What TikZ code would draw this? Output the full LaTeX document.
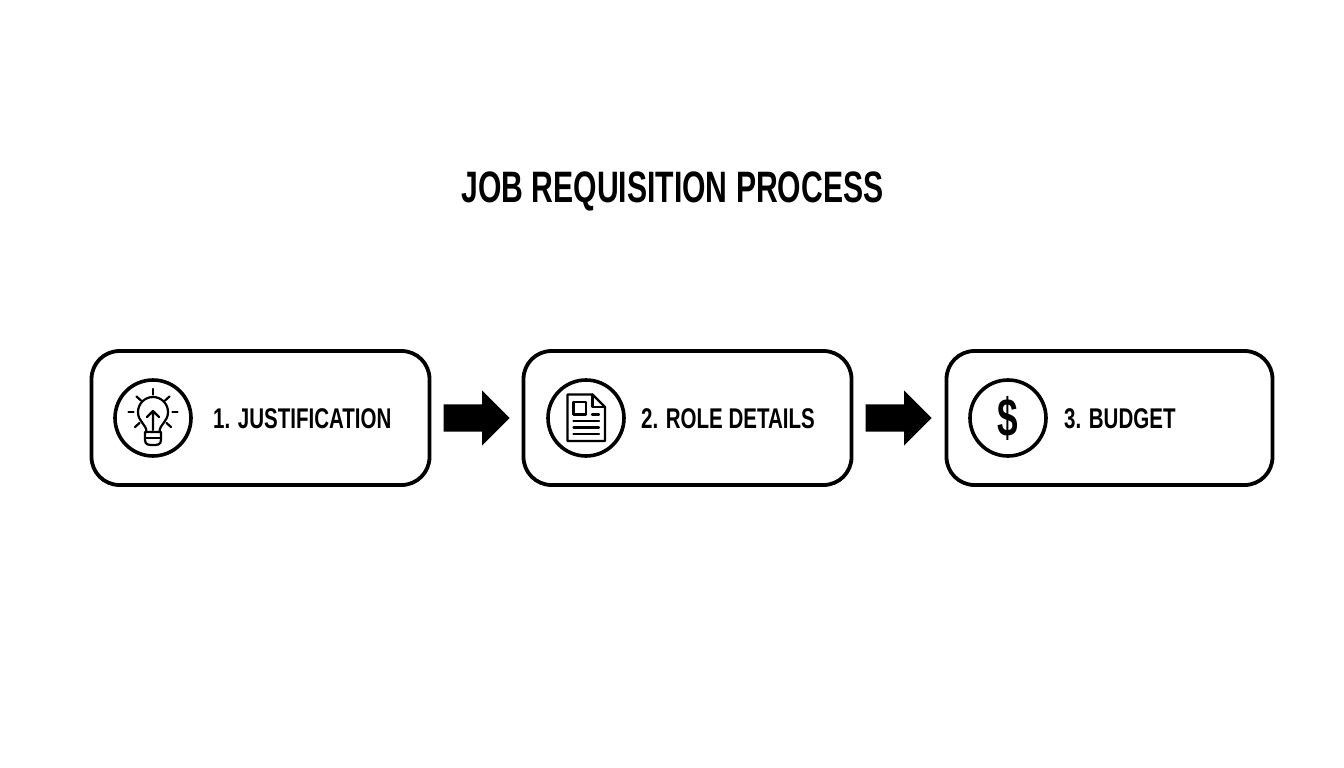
\documentclass[tikz,border=0pt]{standalone}
\usepackage{fontspec}
\usetikzlibrary{shapes.arrows}
\newfontfamily\titlefont[FakeStretch=0.685,UprightFont=*-Bold,BoldFont=*-Bold]{Liberation Sans}
\newfontfamily\labelfont[FakeStretch=0.72,UprightFont=*-Bold,BoldFont=*-Bold]{Liberation Sans}
\tikzset{
  x=1pt,y=-1pt,
  stepbox/.style={draw=black,line width=3.8pt,rounded corners=28pt,fill=white,minimum height=134pt,inner sep=0pt},
  badge/.style={circle,draw=black,line width=3.6pt,fill=white,minimum size=76pt,inner sep=0pt},
  blockarrow/.style={single arrow,fill=black,draw=none,anchor=tip,minimum height=66pt,inner xsep=0pt,inner ysep=13.5pt,single arrow head extend=14pt,single arrow tip angle=90},
  steplabel/.style={anchor=base west,inner sep=0pt,font=\labelfont\fontsize{28.5}{30}\selectfont},
  icon/.style={line width=2.2pt,line cap=round,line join=round},
}
\begin{document}
\begin{tikzpicture}
\useasboundingbox (0,0) rectangle (1344,768);
\fill[white] (0,0) rectangle (1344,768);
\node[anchor=base,inner sep=0pt,font=\titlefont\fontsize{44}{46}\selectfont] (title) at (672.5,202) {JOB REQUISITION PROCESS};
\node[stepbox,minimum width=338pt] (box1) at (260.5,418) {};
\node[stepbox,minimum width=328pt] (box2) at (687.5,418) {};
\node[stepbox,minimum width=326pt] (box3) at (1109.5,418) {};
\node[blockarrow] (arrow1) at (510,418) {};
\node[blockarrow] (arrow2) at (932,418) {};
\node[badge] (badge1) at (153,418) {};
\node[badge] (badge2) at (586,418) {};
\node[badge] (badge3) at (1008,418) {};
\node[steplabel] (label1) at (213,428) {1. JUSTIFICATION};
\node[steplabel] (label2) at (641,428) {2. ROLE DETAILS};
\node[steplabel] (label3) at (1064,428) {3. BUDGET};
% lightbulb
\begin{scope}[icon,shift={(badge1.center)}]
  \draw (-6.5,14) .. controls (-6.5,6) and (-15,4) .. (-15,-6) arc[start angle=180,end angle=360,radius=15] .. controls (15,4) and (6.5,6) .. (6.5,14);
  \draw (-8,14) -- (8,14) -- (8,22) .. controls (8,27) and (4,27) .. (0,27) .. controls (-4,27) and (-8,27) .. (-8,22) -- cycle;
  \draw (-8,20) -- (8,20);
  \draw (0,12) -- (0,-7) (-6,-1) -- (0,-7) -- (6,-1);
  \draw (0,-29) -- (0,-23.5);
  \draw (-16.5,-21.5) -- (-12,-17.5) (16.5,-21.5) -- (12,-17.5);
  \draw (-24.5,-6) -- (-19.5,-6) (24.5,-6) -- (19.5,-6);
  \draw (-18,9) -- (-13.5,5) (18,9) -- (13.5,5);
\end{scope}
% document
\begin{scope}[icon,shift={(badge2.center)}]
  \draw (6.5,-23.5) -- (-18.5,-23.5) -- (-18.5,23) -- (19,23) -- (19,-11) -- cycle;
  \draw (6.5,-23.5) -- (6.5,-11) -- (19,-11);
  \draw (-12.5,-16) rectangle (0,-3.5);
  \draw (6,-3.5) -- (13,-3.5);
  \draw (-12.5,3) -- (13,3) (-12.5,9.5) -- (13,9.5) (-12.5,16) -- (13,16);
\end{scope}
% dollar
\node[inner sep=0pt,font=\titlefont\fontsize{54}{56}\selectfont] (dollar) at (badge3.center) {\$};
\end{tikzpicture}
\end{document}
